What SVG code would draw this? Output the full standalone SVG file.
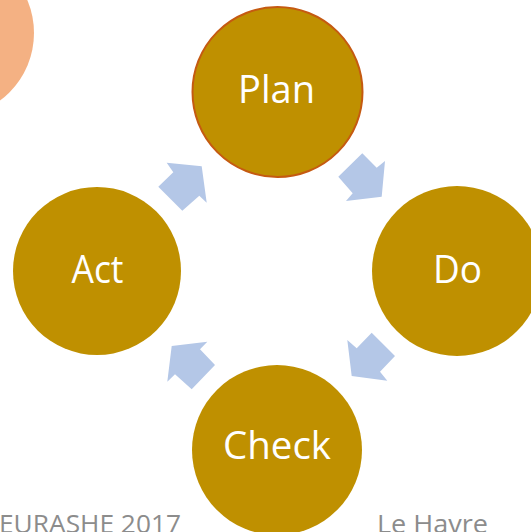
<svg xmlns="http://www.w3.org/2000/svg" width="531" height="532" viewBox="0 0 531 532">
<style>
.node{fill:#BF9000}
.lbl{font-family:"Open Sans","Liberation Sans",sans-serif;font-size:38px;fill:#FFFFFF;text-anchor:middle}
.arrow{fill:#B4C7E7}
.foot{font-family:"Open Sans","Liberation Sans",sans-serif;font-size:26px;fill:#8C8C8C}
</style>
<rect width="531" height="532" fill="#FFFFFF"/>
<circle cx="-50" cy="33" r="84" fill="#F4B183"/>
<g id="connectors">
<polygon class="arrow" points="166.7,162.7 201.7,166.2 206.7,202.7 199.3,195.7 182.3,210.7 158.3,186.7 173.3,172.3"/>
<polygon class="arrow" points="362.3,153.3 376.7,167.7 385,161 381.7,196.7 346,201 352.7,193.3 338.3,176.7"/>
<polygon class="arrow" points="395,356 371.7,332.7 356.7,348.3 347.3,340 351.7,376 387.3,380.7 380,371.7"/>
<polygon class="arrow" points="207.3,341.7 171.7,346 167.3,381.7 175,374.3 191.7,389.3 215,365 200,349.3"/>
</g>
<g id="plan">
<circle class="node" cx="277.5" cy="92" r="85" stroke="#C55A11" stroke-width="2"/>
<text class="lbl" x="276.5" y="103" textLength="77" lengthAdjust="spacingAndGlyphs">Plan</text>
</g>
<g id="do">
<circle class="node" cx="457" cy="271" r="85"/>
<text class="lbl" x="457.5" y="283" textLength="49" lengthAdjust="spacingAndGlyphs">Do</text>
</g>
<g id="check">
<circle class="node" cx="277" cy="450" r="85"/>
<text class="lbl" x="277" y="459" textLength="108" lengthAdjust="spacingAndGlyphs">Check</text>
</g>
<g id="act">
<circle class="node" cx="97" cy="271" r="84"/>
<text class="lbl" x="97.5" y="283" textLength="52" lengthAdjust="spacingAndGlyphs">Act</text>
</g>
<text class="foot" x="-1" y="533" textLength="182" lengthAdjust="spacingAndGlyphs">EURASHE 2017</text>
<text class="foot" x="377" y="533" textLength="111" lengthAdjust="spacingAndGlyphs">Le Havre</text>
</svg>
